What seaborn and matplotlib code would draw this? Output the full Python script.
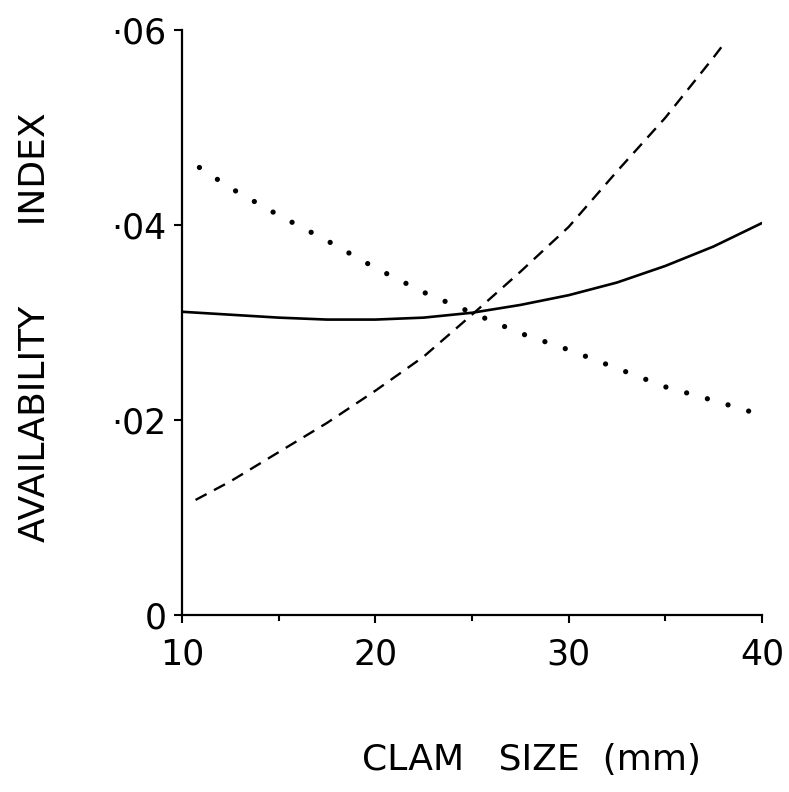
import numpy as np
import pandas as pd
import matplotlib
matplotlib.use("Agg")
import matplotlib.pyplot as plt
import seaborn as sb

# clam size (mm) and the three availability index curves
size_solid = [10, 12.5, 15, 17.5, 20, 22.5, 25, 27.5, 30, 32.5, 35, 37.5, 40]
index_solid = [0.0311, 0.0308, 0.0305, 0.0303, 0.0303, 0.0305, 0.0310,
               0.0318, 0.0328, 0.0341, 0.0358, 0.0378, 0.0402]

size_dashed = [10.7, 12.5, 15, 17.5, 20, 22.5, 25, 27.5, 30, 32.5, 35, 37.5, 38]
index_dashed = [0.0118, 0.0137, 0.0167, 0.0197, 0.0230, 0.0265, 0.0308,
                0.0352, 0.0398, 0.0455, 0.0510, 0.0572, 0.0585]

size_dotted = [10.9, 12.5, 15, 17.5, 20, 22.5, 25, 27.5, 30, 32.5, 35, 37.5, 40]
index_dotted = [0.0459, 0.0438, 0.0410, 0.0384, 0.0356, 0.0331, 0.0310,
                0.0289, 0.0272, 0.0253, 0.0234, 0.0220, 0.0205]

x_ticks = [10, 20, 30, 40]
y_ticks = [0, 0.02, 0.04, 0.06]
y_tick_labels = ["0", "\u00b702", "\u00b704", "\u00b706"]


def main():
    sb.set_style("ticks")
    plt.rcParams["font.family"] = ["DejaVu Sans"]
    plt.rcParams["lines.scale_dashes"] = False
    plt.rcParams["text.color"] = "black"
    plt.rcParams["axes.labelcolor"] = "black"

    fig = plt.figure(figsize=(7.89, 7.92), dpi=100)
    ax = fig.add_axes([0.2307, 0.2235, 0.735, 0.7386])

    sb.lineplot(x=size_solid, y=index_solid, ax=ax, color="black", lw=1.9)
    sb.lineplot(x=size_dashed, y=index_dashed, ax=ax, color="black", lw=1.7,
                linestyle=(0, (9, 6)))
    sb.lineplot(x=size_dotted, y=index_dotted, ax=ax, color="black", lw=3.8,
                linestyle=(0, (0.01, 15.5)), dash_capstyle="round")

    ax.set_xlim(10, 40)
    ax.set_ylim(0, 0.06)
    ax.set_xticks(x_ticks)
    ax.set_xticks([15, 25, 35], minor=True)
    ax.set_yticks(y_ticks)
    ax.set_yticklabels(y_tick_labels)
    ax.tick_params(axis="both", which="major", labelsize=25, length=6,
                   width=1.5, color="black", labelcolor="black")
    ax.tick_params(axis="x", which="major", pad=10)
    ax.tick_params(axis="y", which="major", pad=5)
    ax.tick_params(axis="x", which="minor", length=4, width=1.5, color="black")

    sb.despine(ax=ax)
    for s in ["left", "bottom"]:
        ax.spines[s].set_linewidth(1.6)
        ax.spines[s].set_color("black")

    ax.set_xlabel("CLAM   SIZE  (mm)", fontsize=26, va="center", color="black")
    ax.xaxis.set_label_coords(0.602, -0.248)
    ax.set_ylabel("AVAILABILITY       INDEX", fontsize=26, va="center",
                  color="black")
    ax.yaxis.set_label_coords(-0.253, 0.492)

    fig.savefig("out.png", dpi=100, facecolor="white")


if __name__ == "__main__":
    main()
